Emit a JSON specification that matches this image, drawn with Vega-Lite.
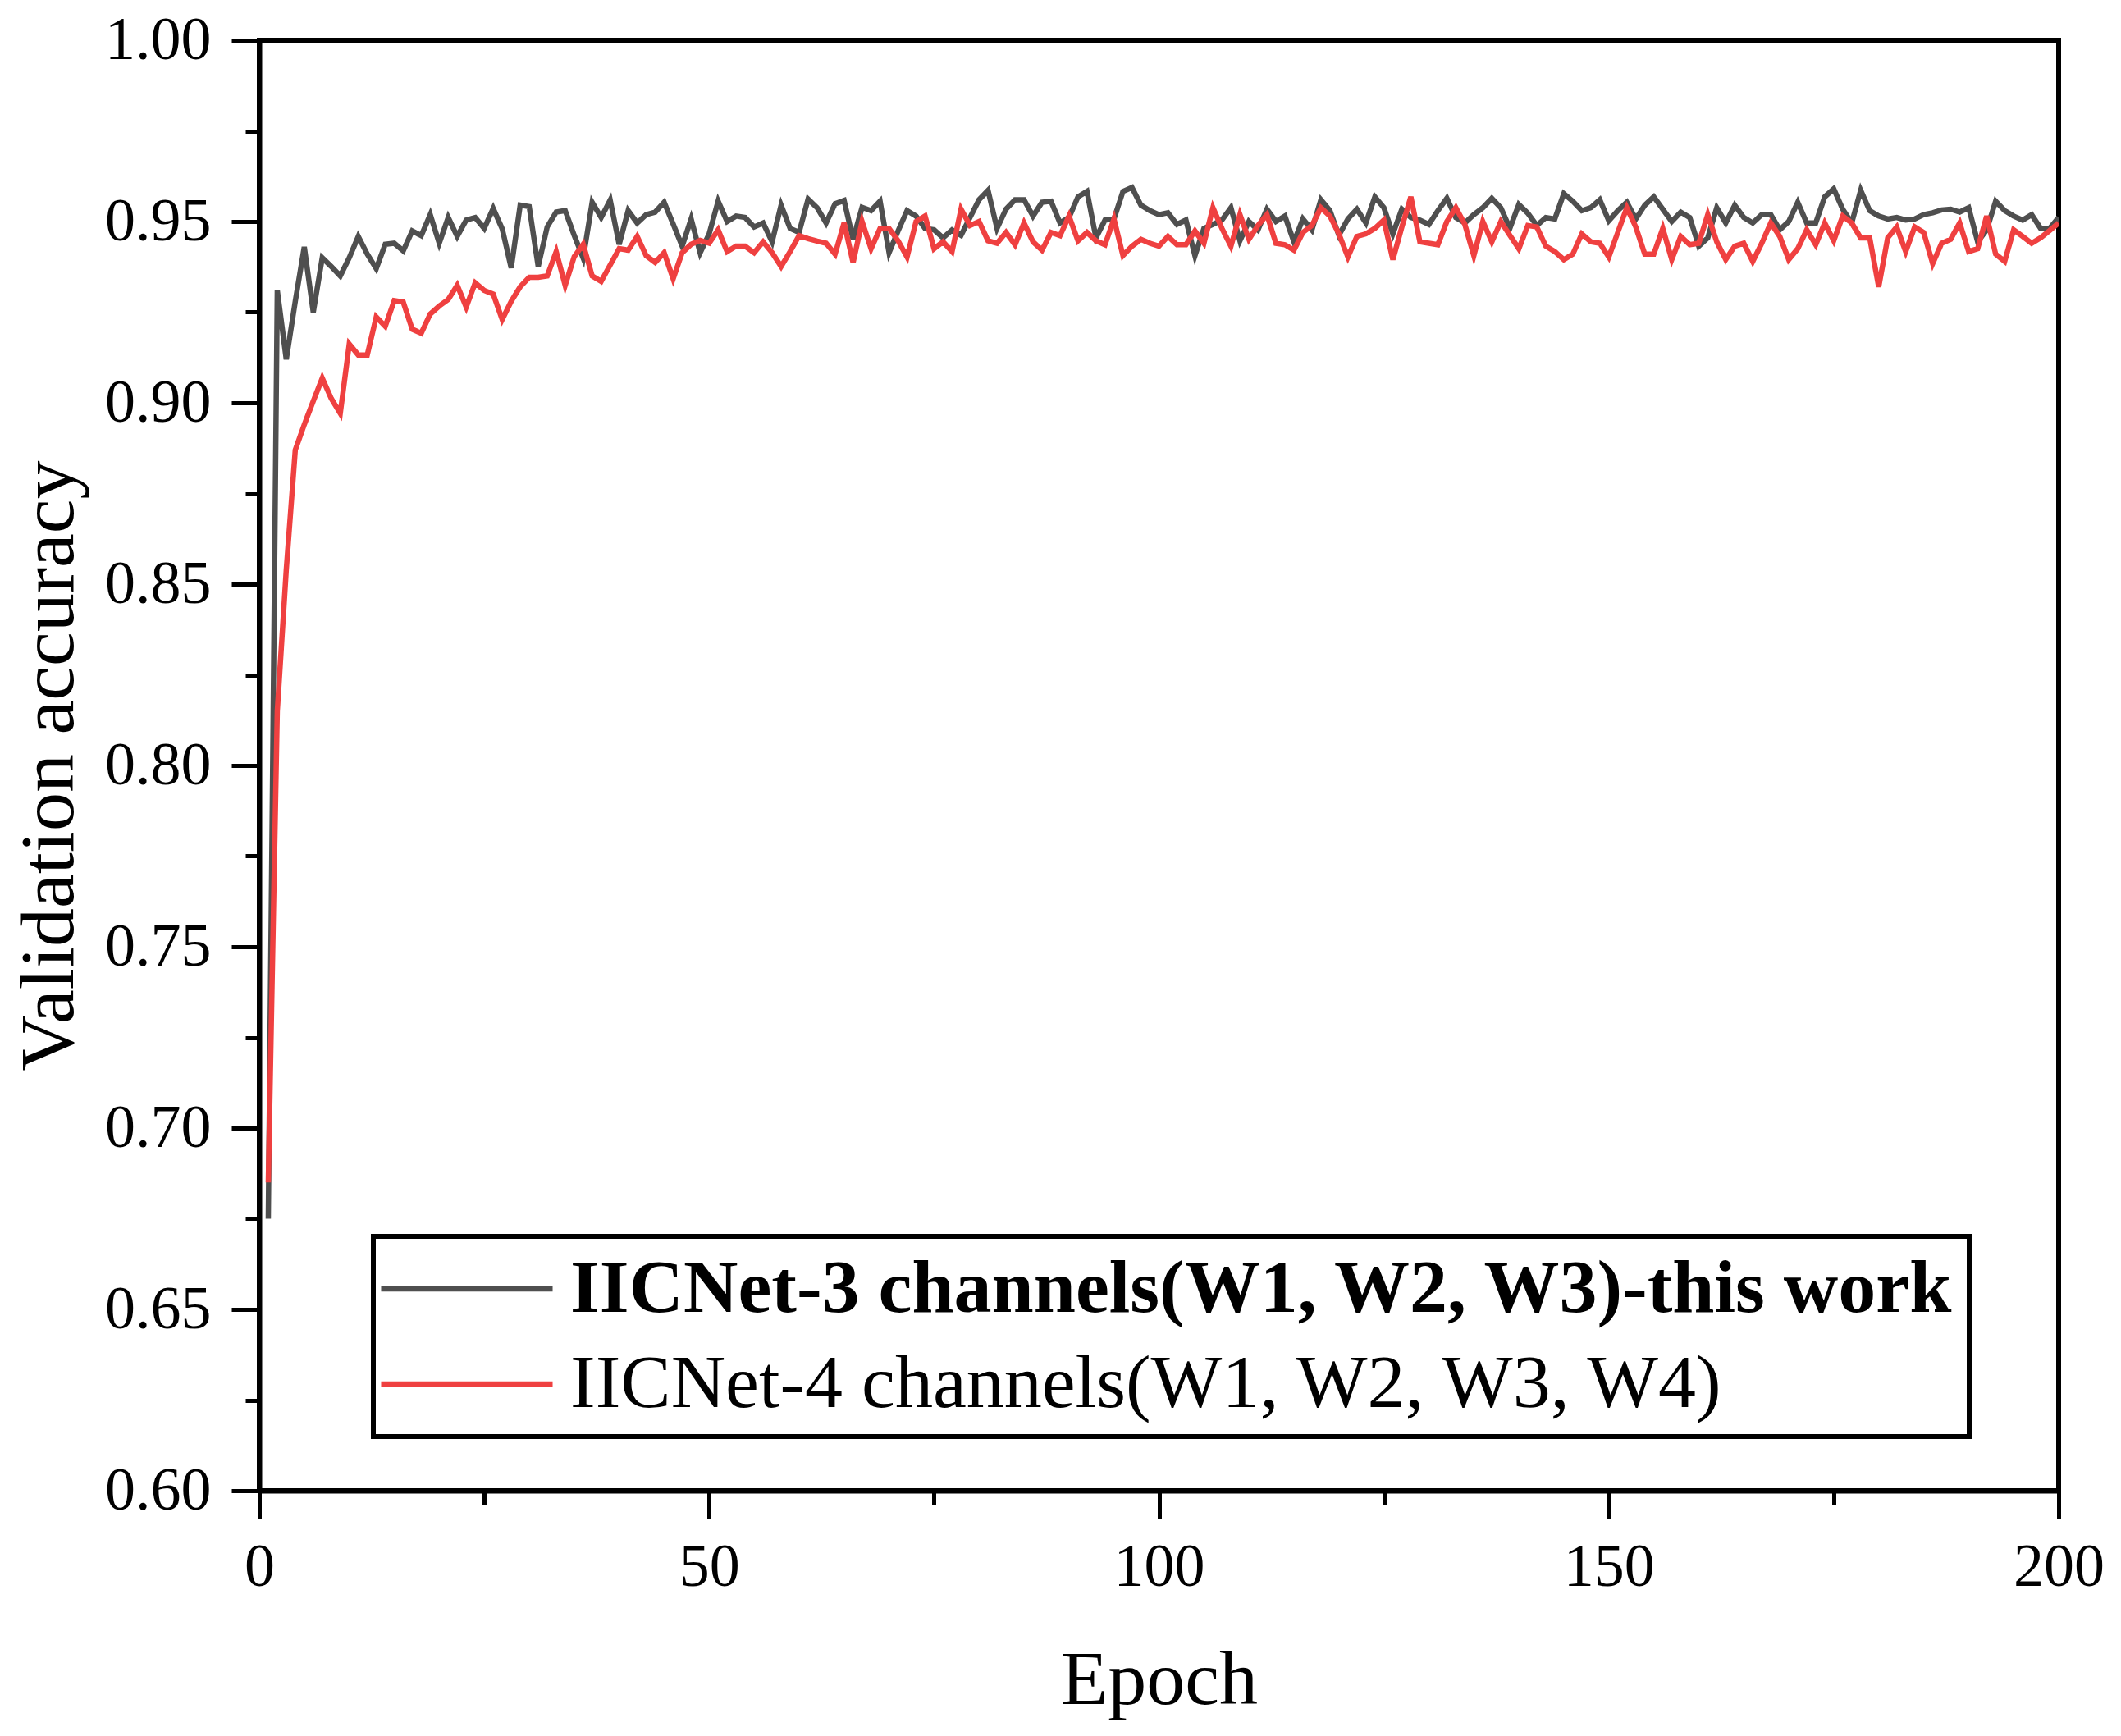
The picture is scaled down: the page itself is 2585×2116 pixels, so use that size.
{
  "$schema": "https://vega.github.io/schema/vega-lite/v6.json",
  "autosize": {"type": "none"},
  "padding": {"left": 316, "top": 49, "right": 76, "bottom": 299},
  "width": 2193,
  "height": 1768,
  "background": "white",
  "view": {"stroke": "black", "strokeWidth": 6},
  "config": {
    "font": "Liberation Serif",
    "axis": {
      "domainColor": "black", "domainWidth": 6,
      "tickColor": "black", "tickWidth": 5,
      "labelColor": "black", "labelFontSize": 74, "labelFont": "Liberation Serif",
      "titleColor": "black", "titleFontSize": 94, "titleFontWeight": "normal", "titleFont": "Liberation Serif",
      "grid": false
    }
  },
  "data": {
    "values": [
      {"epoch":1,"c3":0.675,"c4":0.685},{"epoch":2,"c3":0.931,"c4":0.815},{"epoch":3,"c3":0.912,"c4":0.854},{"epoch":4,"c3":0.928,"c4":0.887},{"epoch":5,"c3":0.943,"c4":0.894},
      {"epoch":6,"c3":0.925,"c4":0.9005},{"epoch":7,"c3":0.940,"c4":0.9068},{"epoch":8,"c3":0.9376,"c4":0.9012},{"epoch":9,"c3":0.935,"c4":0.8971},{"epoch":10,"c3":0.940,"c4":0.9162},
      {"epoch":11,"c3":0.9459,"c4":0.9132},{"epoch":12,"c3":0.941,"c4":0.9132},{"epoch":13,"c3":0.937,"c4":0.9237},{"epoch":14,"c3":0.9437,"c4":0.9211},{"epoch":15,"c3":0.944,"c4":0.9282},
      {"epoch":16,"c3":0.9419,"c4":0.9278},{"epoch":17,"c3":0.9474,"c4":0.9203},{"epoch":18,"c3":0.9461,"c4":0.9192},{"epoch":19,"c3":0.9519,"c4":0.9245},{"epoch":20,"c3":0.944,"c4":0.9267},
      {"epoch":21,"c3":0.9511,"c4":0.9285},{"epoch":22,"c3":0.9459,"c4":0.9324},{"epoch":23,"c3":0.9504,"c4":0.9264},{"epoch":24,"c3":0.9511,"c4":0.9331},{"epoch":25,"c3":0.9481,"c4":0.931},
      {"epoch":26,"c3":0.9536,"c4":0.930},{"epoch":27,"c3":0.948,"c4":0.923},{"epoch":28,"c3":0.9372,"c4":0.928},{"epoch":29,"c3":0.9545,"c4":0.932},{"epoch":30,"c3":0.9541,"c4":0.9346},
      {"epoch":31,"c3":0.9376,"c4":0.9346},{"epoch":32,"c3":0.9485,"c4":0.935},{"epoch":33,"c3":0.9526,"c4":0.9417},{"epoch":34,"c3":0.953,"c4":0.9324},{"epoch":35,"c3":0.9462,"c4":0.9403},
      {"epoch":36,"c3":0.9399,"c4":0.9437},{"epoch":37,"c3":0.9553,"c4":0.935},{"epoch":38,"c3":0.9511,"c4":0.9335},{"epoch":39,"c3":0.9559,"c4":0.938},{"epoch":40,"c3":0.9437,"c4":0.9425},
      {"epoch":41,"c3":0.953,"c4":0.9421},{"epoch":42,"c3":0.9496,"c4":0.9459},{"epoch":43,"c3":0.9519,"c4":0.9406},{"epoch":44,"c3":0.9526,"c4":0.9387},{"epoch":45,"c3":0.9553,"c4":0.9414},
      {"epoch":46,"c3":0.9493,"c4":0.9342},{"epoch":47,"c3":0.9432,"c4":0.9414},{"epoch":48,"c3":0.9507,"c4":0.9437},{"epoch":49,"c3":0.9414,"c4":0.9448},{"epoch":50,"c3":0.9466,"c4":0.944},
      {"epoch":51,"c3":0.9556,"c4":0.9477},{"epoch":52,"c3":0.95,"c4":0.9417},{"epoch":53,"c3":0.9515,"c4":0.9432},{"epoch":54,"c3":0.9511,"c4":0.9432},{"epoch":55,"c3":0.9485,"c4":0.9414},
      {"epoch":56,"c3":0.9496,"c4":0.9444},{"epoch":57,"c3":0.9444,"c4":0.9414},{"epoch":58,"c3":0.9545,"c4":0.9376},{"epoch":59,"c3":0.9481,"c4":0.9417},{"epoch":60,"c3":0.947,"c4":0.9461},
      {"epoch":61,"c3":0.9562,"c4":0.9453},{"epoch":62,"c3":0.9538,"c4":0.9446},{"epoch":63,"c3":0.9496,"c4":0.944},{"epoch":64,"c3":0.9549,"c4":0.941},{"epoch":65,"c3":0.9558,"c4":0.9496},
      {"epoch":66,"c3":0.9451,"c4":0.9387},{"epoch":67,"c3":0.9539,"c4":0.95},{"epoch":68,"c3":0.953,"c4":0.9425},{"epoch":69,"c3":0.9556,"c4":0.9481},{"epoch":70,"c3":0.9414,"c4":0.9481},
      {"epoch":71,"c3":0.9474,"c4":0.9447},{"epoch":72,"c3":0.953,"c4":0.9402},{"epoch":73,"c3":0.9515,"c4":0.95},{"epoch":74,"c3":0.9481,"c4":0.9515},{"epoch":75,"c3":0.9477,"c4":0.9425},
      {"epoch":76,"c3":0.9455,"c4":0.9444},{"epoch":77,"c3":0.9477,"c4":0.9417},{"epoch":78,"c3":0.9462,"c4":0.9534},{"epoch":79,"c3":0.9511,"c4":0.9489},{"epoch":80,"c3":0.956,"c4":0.95},
      {"epoch":81,"c3":0.9586,"c4":0.9447},{"epoch":82,"c3":0.9481,"c4":0.944},{"epoch":83,"c3":0.9534,"c4":0.947},{"epoch":84,"c3":0.956,"c4":0.9436},{"epoch":85,"c3":0.956,"c4":0.9496},
      {"epoch":86,"c3":0.9515,"c4":0.9444},{"epoch":87,"c3":0.9553,"c4":0.9421},{"epoch":88,"c3":0.9556,"c4":0.947},{"epoch":89,"c3":0.9496,"c4":0.9461},{"epoch":90,"c3":0.9511,"c4":0.9515},
      {"epoch":91,"c3":0.9568,"c4":0.9447},{"epoch":92,"c3":0.9583,"c4":0.947},{"epoch":93,"c3":0.9455,"c4":0.9447},{"epoch":94,"c3":0.9504,"c4":0.9436},{"epoch":95,"c3":0.9507,"c4":0.9507},
      {"epoch":96,"c3":0.9583,"c4":0.9406},{"epoch":97,"c3":0.9594,"c4":0.9432},{"epoch":98,"c3":0.9545,"c4":0.9451},{"epoch":99,"c3":0.953,"c4":0.944},{"epoch":100,"c3":0.9519,"c4":0.9432},
      {"epoch":101,"c3":0.9524,"c4":0.9459},{"epoch":102,"c3":0.9492,"c4":0.9436},{"epoch":103,"c3":0.9504,"c4":0.9436},{"epoch":104,"c3":0.9406,"c4":0.9474},{"epoch":105,"c3":0.9481,"c4":0.944},
      {"epoch":106,"c3":0.9492,"c4":0.9538},{"epoch":107,"c3":0.9504,"c4":0.9481},{"epoch":108,"c3":0.9538,"c4":0.9432},{"epoch":109,"c3":0.9447,"c4":0.9519},{"epoch":110,"c3":0.95,"c4":0.9451},
      {"epoch":111,"c3":0.9477,"c4":0.9489},{"epoch":112,"c3":0.9534,"c4":0.9519},{"epoch":113,"c3":0.95,"c4":0.944},{"epoch":114,"c3":0.9515,"c4":0.9436},{"epoch":115,"c3":0.9444,"c4":0.9421},
      {"epoch":116,"c3":0.9507,"c4":0.947},{"epoch":117,"c3":0.9477,"c4":0.9489},{"epoch":118,"c3":0.956,"c4":0.9538},{"epoch":119,"c3":0.953,"c4":0.9515},{"epoch":120,"c3":0.9462,"c4":0.9466},
      {"epoch":121,"c3":0.9507,"c4":0.9402},{"epoch":122,"c3":0.9534,"c4":0.9459},{"epoch":123,"c3":0.9496,"c4":0.9466},{"epoch":124,"c3":0.9568,"c4":0.9481},{"epoch":125,"c3":0.9538,"c4":0.9504},
      {"epoch":126,"c3":0.9466,"c4":0.9395},{"epoch":127,"c3":0.9534,"c4":0.9485},{"epoch":128,"c3":0.9511,"c4":0.9568},{"epoch":129,"c3":0.9504,"c4":0.9444},{"epoch":130,"c3":0.9492,"c4":0.944},
      {"epoch":131,"c3":0.953,"c4":0.9436},{"epoch":132,"c3":0.9564,"c4":0.95},{"epoch":133,"c3":0.9511,"c4":0.9538},{"epoch":134,"c3":0.9496,"c4":0.9492},{"epoch":135,"c3":0.9519,"c4":0.9406},
      {"epoch":136,"c3":0.9538,"c4":0.95},{"epoch":137,"c3":0.9564,"c4":0.9444},{"epoch":138,"c3":0.9538,"c4":0.95},{"epoch":139,"c3":0.9481,"c4":0.9462},{"epoch":140,"c3":0.9547,"c4":0.9425},
      {"epoch":141,"c3":0.9523,"c4":0.9489},{"epoch":142,"c3":0.9489,"c4":0.9485},{"epoch":143,"c3":0.9511,"c4":0.9432},{"epoch":144,"c3":0.9507,"c4":0.9417},{"epoch":145,"c3":0.9577,"c4":0.9395},
      {"epoch":146,"c3":0.9556,"c4":0.941},{"epoch":147,"c3":0.953,"c4":0.9466},{"epoch":148,"c3":0.9538,"c4":0.9444},{"epoch":149,"c3":0.956,"c4":0.944},{"epoch":150,"c3":0.9502,"c4":0.9402},
      {"epoch":151,"c3":0.953,"c4":0.947},{"epoch":152,"c3":0.9553,"c4":0.9538},{"epoch":153,"c3":0.9507,"c4":0.9485},{"epoch":154,"c3":0.9545,"c4":0.941},{"epoch":155,"c3":0.9568,"c4":0.941},
      {"epoch":156,"c3":0.9534,"c4":0.9481},{"epoch":157,"c3":0.95,"c4":0.9395},{"epoch":158,"c3":0.9526,"c4":0.9459},{"epoch":159,"c3":0.9511,"c4":0.9436},{"epoch":160,"c3":0.9432,"c4":0.944},
      {"epoch":161,"c3":0.9455,"c4":0.9519},{"epoch":162,"c3":0.9538,"c4":0.9444},{"epoch":163,"c3":0.9496,"c4":0.9395},{"epoch":164,"c3":0.9545,"c4":0.9432},{"epoch":165,"c3":0.9511,"c4":0.944},
      {"epoch":166,"c3":0.9496,"c4":0.939},{"epoch":167,"c3":0.9519,"c4":0.944},{"epoch":168,"c3":0.9519,"c4":0.9496},{"epoch":169,"c3":0.9477,"c4":0.9459},{"epoch":170,"c3":0.95,"c4":0.9395},
      {"epoch":171,"c3":0.9553,"c4":0.9425},{"epoch":172,"c3":0.9496,"c4":0.9477},{"epoch":173,"c3":0.9496,"c4":0.9436},{"epoch":174,"c3":0.9568,"c4":0.9496},{"epoch":175,"c3":0.959,"c4":0.9447},
      {"epoch":176,"c3":0.9534,"c4":0.9515},{"epoch":177,"c3":0.9496,"c4":0.9496},{"epoch":178,"c3":0.9586,"c4":0.9455},{"epoch":179,"c3":0.953,"c4":0.9455},{"epoch":180,"c3":0.9515,"c4":0.932},
      {"epoch":181,"c3":0.9507,"c4":0.9455},{"epoch":182,"c3":0.9511,"c4":0.9485},{"epoch":183,"c3":0.9504,"c4":0.9417},{"epoch":184,"c3":0.9507,"c4":0.9485},{"epoch":185,"c3":0.9519,"c4":0.947},
      {"epoch":186,"c3":0.9524,"c4":0.9384},{"epoch":187,"c3":0.9532,"c4":0.944},{"epoch":188,"c3":0.9534,"c4":0.9451},{"epoch":189,"c3":0.9526,"c4":0.9496},{"epoch":190,"c3":0.9538,"c4":0.9417},
      {"epoch":191,"c3":0.9444,"c4":0.9425},{"epoch":192,"c3":0.9477,"c4":0.9515},{"epoch":193,"c3":0.9556,"c4":0.941},{"epoch":194,"c3":0.953,"c4":0.939},{"epoch":195,"c3":0.9515,"c4":0.9477},
      {"epoch":196,"c3":0.9504,"c4":0.9459},{"epoch":197,"c3":0.9519,"c4":0.944},{"epoch":198,"c3":0.9481,"c4":0.9455},{"epoch":199,"c3":0.9481,"c4":0.9475},{"epoch":200,"c3":0.9511,"c4":0.9496}
    ]
  },
  "transform": [
    {"fold": ["c3", "c4"], "as": ["model", "acc"]}
  ],
  "mark": {"type": "line", "strokeWidth": 6.5, "clip": true},
  "encoding": {
    "x": {
      "field": "epoch", "type": "quantitative",
      "scale": {"domain": [0, 200], "nice": false, "zero": false},
      "axis": {
        "title": "Epoch",
        "values": [0, 25, 50, 75, 100, 125, 150, 175, 200],
        "labelExpr": "datum.value % 50 == 0 ? datum.label : ''",
        "tickSize": {"condition": {"test": "datum.value % 50 != 0", "value": 17}, "value": 34},
        "labelPadding": 23,
        "labelFlush": false,
        "labelOverlap": false,
        "titlePadding": 55
      }
    },
    "y": {
      "field": "acc", "type": "quantitative",
      "scale": {"domain": [0.6, 1.0], "nice": false, "zero": false},
      "axis": {
        "title": "Validation accuracy",
        "values": [0.6, 0.625, 0.65, 0.675, 0.7, 0.725, 0.75, 0.775, 0.8, 0.825, 0.85, 0.875, 0.9, 0.925, 0.95, 0.975, 1.0],
        "format": ".2f",
        "labelExpr": "round(datum.value * 1000) % 50 == 0 ? datum.label : ''",
        "tickSize": {"condition": {"test": "round(datum.value * 1000) % 50 != 0", "value": 17}, "value": 34},
        "labelPadding": 25,
        "labelFlush": false,
        "labelOverlap": false,
        "titlePadding": 19
      }
    },
    "color": {
      "field": "model", "type": "nominal",
      "scale": {"domain": ["c3", "c4"], "range": ["#4f4f4f", "#ef4040"]},
      "legend": {
        "title": null,
        "orient": "none",
        "legendX": 139,
        "legendY": 1458,
        "direction": "vertical",
        "labelExpr": "datum.value == 'c3' ? 'IICNet-3 channels(W1, W2, W3)-this work' : 'IICNet-4 channels(W1, W2, W3, W4)'",
        "labelFont": "Liberation Serif",
        "labelFontSize": 92,
        "labelColor": "black",
        "labelLimit": 0,
        "labelOffset": 80,
        "symbolType": "M-10,0H10",
        "symbolSize": 437,
        "symbolStrokeWidth": 6.5,
        "symbolOffset": 50,
        "rowPadding": 24,
        "padding": 18,
        "strokeColor": "black",
        "fillColor": "white",
        "encode": {
          "labels": {"update": {"fontWeight": {"signal": "datum.value == 'c3' ? 'bold' : 'normal'"}}},
          "legend": {"update": {"strokeWidth": {"value": 6}}}
        }
      }
    }
  }
}
